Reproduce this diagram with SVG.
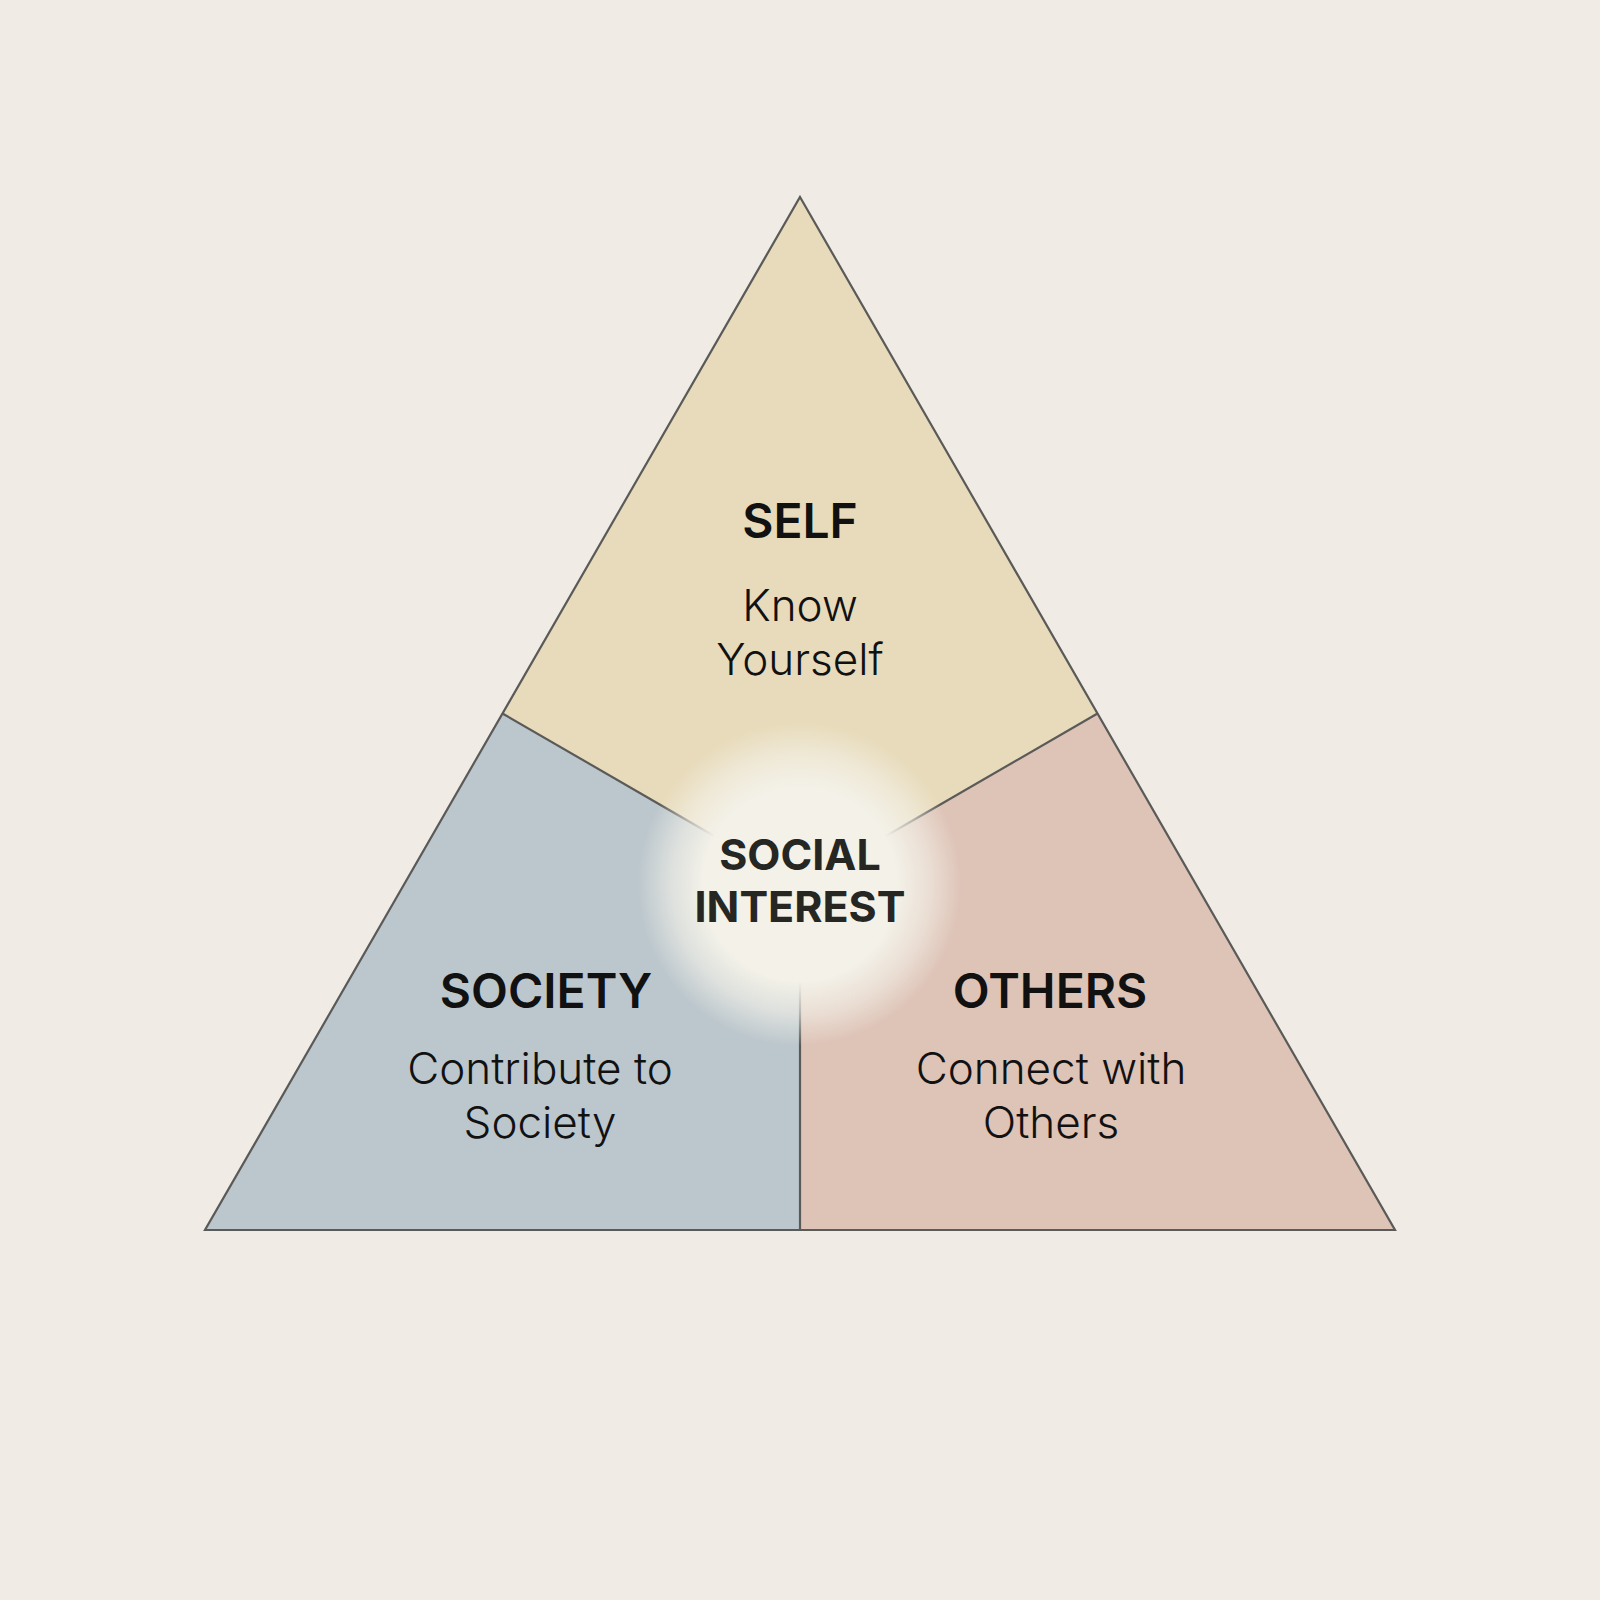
<svg xmlns="http://www.w3.org/2000/svg" width="1600" height="1600" viewBox="0 0 1600 1600">
  <defs>
    <radialGradient id="glow" cx="800" cy="884" r="162" gradientUnits="userSpaceOnUse">
      <stop offset="0" stop-color="#F3F1E8" stop-opacity="1"/>
      <stop offset="0.6" stop-color="#F3F1E8" stop-opacity="1"/>
      <stop offset="0.8" stop-color="#F3F1E8" stop-opacity="0.6"/>
      <stop offset="1" stop-color="#F3F1E8" stop-opacity="0"/>
    </radialGradient>
    <style>
      .edge { fill: none; stroke: #5a5a58; stroke-width: 2.2; stroke-linejoin: miter; }
      .title { font-family: Inter, "Liberation Sans", sans-serif; font-weight: 600; font-size: 48px; fill: #111111; text-anchor: middle; }
      .body { font-family: Inter, "Liberation Sans", sans-serif; font-weight: 300; font-size: 44px; fill: #111111; text-anchor: middle; }
      .center { font-family: Inter, "Liberation Sans", sans-serif; font-weight: 700; font-size: 43px; fill: #262623; text-anchor: middle; }
    </style>
  </defs>
  <rect width="1600" height="1600" fill="#F0ECE5"/>

  <g id="self">
    <polygon points="800,197 1097.5,713.5 800,885.7 502.5,713.5" fill="#E8DBBB"/>
    <text class="title" x="800" y="538">SELF</text>
    <text class="body" x="800" y="621">Know</text>
    <text class="body" x="800" y="675">Yourself</text>
  </g>

  <g id="society">
    <polygon points="205,1230 502.5,713.5 800,885.7 800,1230" fill="#BCC7CD"/>
    <text class="title" x="546" y="1008">SOCIETY</text>
    <text class="body" x="540" y="1084">Contribute to</text>
    <text class="body" x="540" y="1138">Society</text>
  </g>

  <g id="others">
    <polygon points="1395,1230 1097.5,713.5 800,885.7 800,1230" fill="#DEC3B7"/>
    <text class="title" x="1050" y="1008">OTHERS</text>
    <text class="body" x="1051" y="1084">Connect with</text>
    <text class="body" x="1051" y="1138">Others</text>
  </g>

  <g id="connectors">
    <polygon class="edge" points="800,197 1395,1230 205,1230"/>
    <line class="edge" x1="502.5" y1="713.5" x2="800" y2="885.7"/>
    <line class="edge" x1="1097.5" y1="713.5" x2="800" y2="885.7"/>
    <line class="edge" x1="800" y1="885.7" x2="800" y2="1230"/>
  </g>

  <g id="social-interest">
    <circle cx="800" cy="884" r="162" fill="url(#glow)"/>
    <text class="center" x="800" y="870">SOCIAL</text>
    <text class="center" x="800" y="922">INTEREST</text>
  </g>
</svg>
